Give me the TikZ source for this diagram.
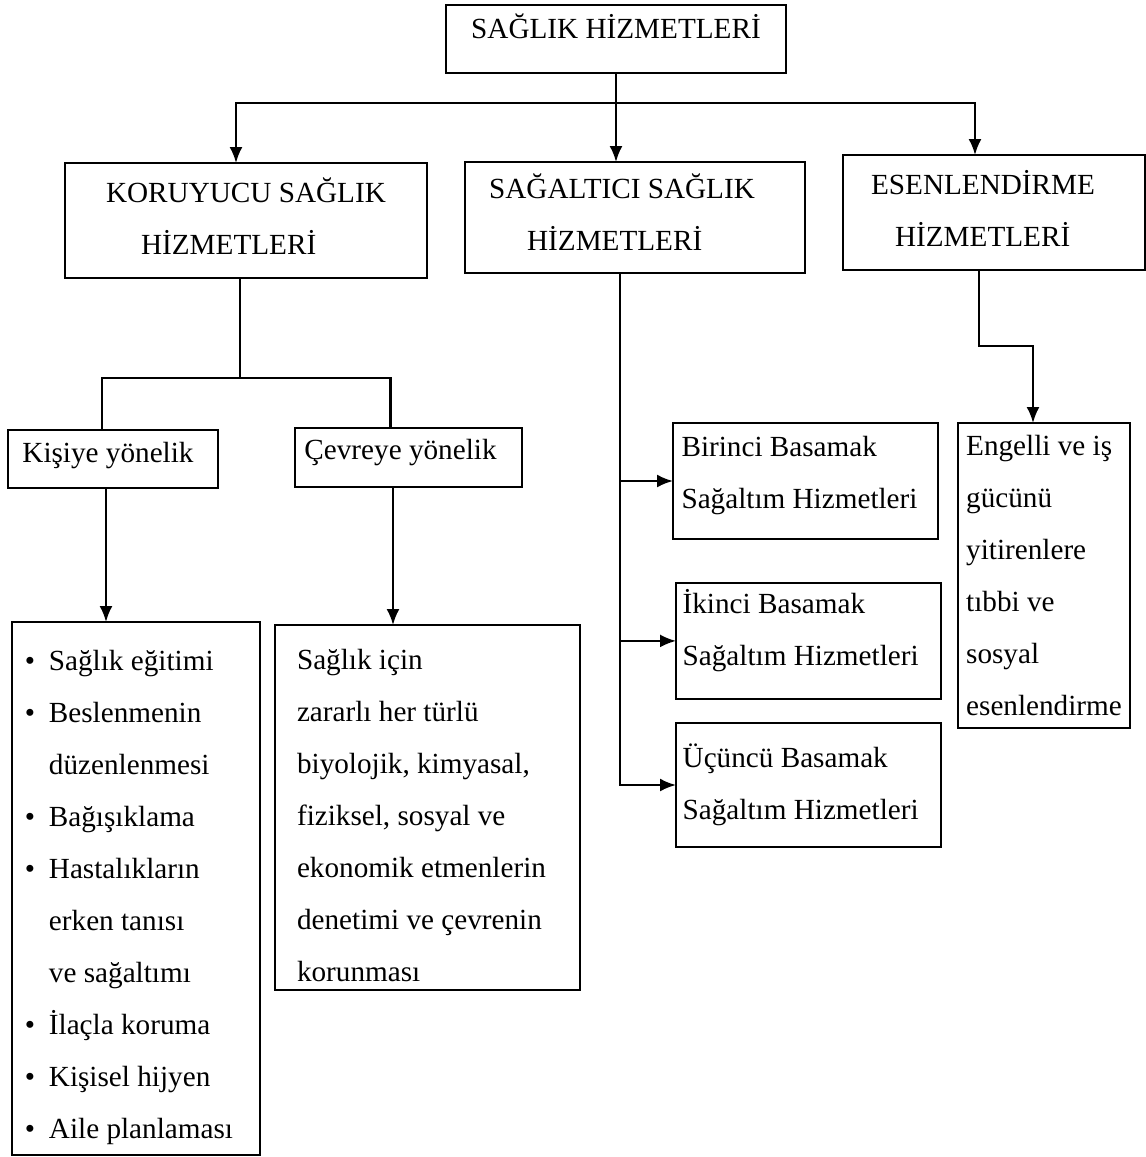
\documentclass[tikz,border=0pt]{standalone}
\usepackage{fontspec}
\setmainfont{Liberation Serif}
\usetikzlibrary{positioning, arrows.meta}
\tikzset{
kutu/.style={
  draw,
  rectangle,
  outer sep=0pt,
  anchor=north west,
  align=left,
  font=\fontsize{14.6}{26}\selectfont
  },
line/.style={-{Latex[length=8pt,width=6.5pt]}}
}
\newcommand{\madde}{\makebox[12pt][l]{\textbullet}}
\newcommand{\devam}{\hspace*{12pt}}
\newcommand{\ustpay}[1]{\rule{0pt}{#1}}
\newcommand{\altpay}[1]{\rule[-#1]{0pt}{#1}}

\begin{document}
\begin{tikzpicture}[x=0.5pt, y=-0.5pt, line width=1.1pt]
\useasboundingbox (0,0) rectangle (1146,1157);

\node[kutu, minimum width=170pt, minimum height=34pt, text depth=13pt]	(saglik)	at (446,5)	{SAĞLIK HİZMETLERİ};
\node[kutu, minimum width=181pt, minimum height=57.5pt]	(koruyucu)	at (65,163)		{KORUYUCU SAĞLIK \\ \hspace*{17.5pt}HİZMETLERİ\altpay{4pt}};
\node[kutu, minimum width=170pt, minimum height=55.5pt]	(sagaltici)	at (465,162)	{SAĞALTICI SAĞLIK\hspace*{13pt} \\ \hspace*{19pt}HİZMETLERİ\altpay{5pt}};
\node[kutu, minimum width=151pt, minimum height=57.5pt]	(esen)		at (843,155)	{ESENLENDİRME\hspace*{11pt} \\ \hspace*{12pt}HİZMETLERİ\altpay{4pt}};
\node[kutu, minimum width=105pt, minimum height=29pt]	(kisiye)	at (8,430)		{Kişiye yönelik\hspace*{5pt}\altpay{6.2pt}};
\node[kutu, minimum width=113.5pt, minimum height=29.5pt]	(cevre)		at (295,428)	{Çevreye yönelik\hspace*{8pt}\altpay{8.2pt}};
\node[kutu, minimum width=124pt, minimum height=266.5pt]	(koruma)	at (12,622)		{\ustpay{19pt}\madde Sağlık eğitimi \\ \madde Beslenmenin \\ \devam düzenlenmesi \\ \madde Bağışıklama \\ \madde Hastalıkların \\ \devam erken tanısı \\ \devam ve sağaltımı \\ \madde İlaçla koruma \\ \madde Kişisel hijyen \\ \madde Aile planlaması\hspace*{7pt}};
\node[kutu, minimum width=152.5pt, minimum height=182.5pt]	(denetim)	at (275,625)	{\ustpay{18pt}Sağlık için \\ zararlı her türlü \\ biyolojik, kimyasal, \\ fiziksel, sosyal ve \\ ekonomik etmenlerin\hspace*{6pt} \\ denetimi ve çevrenin \\ korunması};
\node[kutu, minimum width=132.5pt, minimum height=58pt]	(birinci)	at (673,423)	{Birinci Basamak \\ Sağaltım Hizmetleri\hspace*{6pt}\altpay{8.2pt}};
\node[kutu, minimum width=131pt, minimum height=56.5pt]	(ikinci)	at (676,583)	{İkinci Basamak \\ Sağaltım Hizmetleri\hspace*{8pt}\altpay{13.2pt}};
\node[kutu, minimum width=131pt, minimum height=62pt]	(ucuncu)	at (676,723)	{Üçüncü Basamak \\ Sağaltım Hizmetleri\hspace*{8pt}};
\node[kutu, minimum width=86pt, minimum height=152.5pt, inner xsep=2pt]	(engelli)	at (958,423)	{Engelli ve iş \\ gücünü \\ yitirenlere \\ tıbbi ve \\ sosyal \\ esenlendirme};

% ana dallar
\coordinate (kavsak) at (616,103);
\draw		(saglik.south)	--	(kavsak);
\draw[line]	(kavsak)		--	(kavsak |- sagaltici.north);
\draw[line]	(kavsak)		-|	([xshift=-5pt]koruyucu.north);
\draw[line]	(kavsak)		-|	([xshift=-9.5pt]esen.north);

% koruyucu
\coordinate (ayrim) at (240,378);
\draw		([xshift=-3pt]koruyucu.south)	--	(ayrim);
\draw		(ayrim)		-|	([xshift=-5.5pt]kisiye.north);
\draw		(ayrim)		-|	([xshift=-9pt]cevre.north);
\draw[line]	([xshift=-3.5pt]kisiye.south)	--	([xshift=-3.5pt]kisiye.south |- koruma.north);
\draw[line]	([xshift=-7.75pt]cevre.south)	--	([xshift=-7.75pt]cevre.south |- denetim.north);

% sagaltici
\coordinate (govde) at ([xshift=-7.5pt]sagaltici.south);
\draw[line]	(govde)				|-	(ucuncu.west);
\draw[line]	(govde |- birinci.west)	--	(birinci.west);
\draw[line]	(govde |- ikinci.west)	--	(ikinci.west);

% esenlendirme
\coordinate (dirsek) at (979,346);
\draw[line]	([xshift=-7.5pt]esen.south)	--	(dirsek)	-|	([xshift=-5.5pt]engelli.north);
\end{tikzpicture}
\end{document}
